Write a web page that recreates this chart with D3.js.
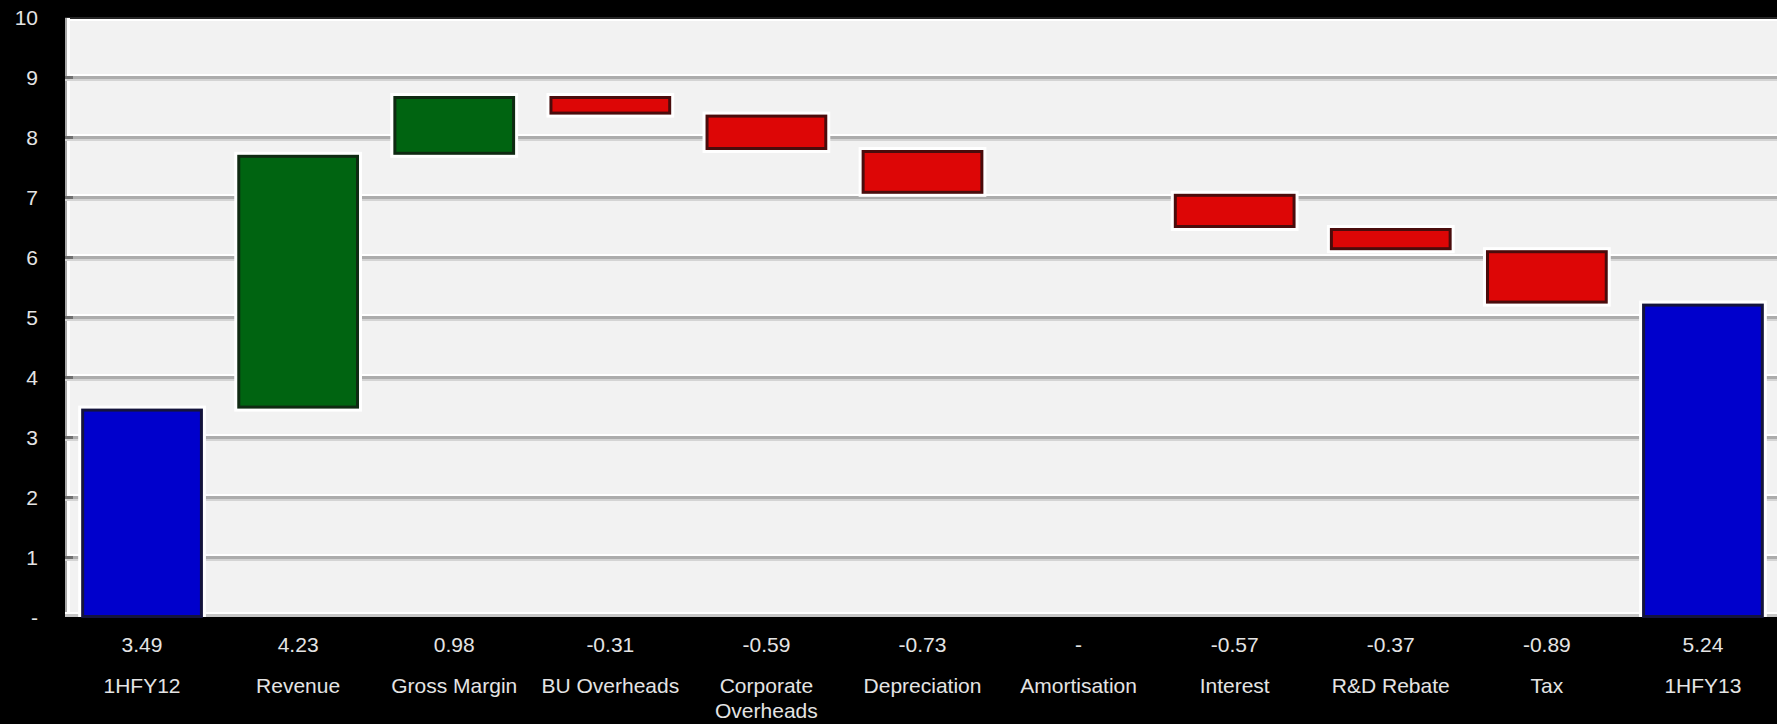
<!DOCTYPE html>
<html>
<head>
<meta charset="utf-8">
<script src="https://cdn.jsdelivr.net/npm/d3@7"></script>
<style>
  html, body { margin: 0; padding: 0; background: #000; }
  svg { display: block; }
  text { font-family: "Liberation Sans", Arial, sans-serif; fill: #e4e4e4; }
</style>
</head>
<body>
<svg id="chart" width="1777" height="724"></svg>
<script>
// ---- data ----
const categories = ["1HFY12", "Revenue", "Gross Margin", "BU Overheads", "Corporate Overheads",
  "Depreciation", "Amortisation", "Interest", "R&D Rebate", "Tax", "1HFY13"];
const values = [3.49, 4.23, 0.98, -0.31, -0.59, -0.73, 0, -0.57, -0.37, -0.89, 5.24];
const kinds = ["total", "delta", "delta", "delta", "delta", "delta", "delta", "delta", "delta", "delta", "total"];
const yTicks = [0, 1, 2, 3, 4, 5, 6, 7, 8, 9, 10];

// ---- layout ----
const W = 1777, H = 724;
const plot = { left: 65, right: 1777, top: 18, bottom: 617 };
const svg = d3.select("#chart");

const x = d3.scaleBand().domain(categories).range([64, 1781]).paddingInner(0.22).paddingOuter(0.11);
const y = d3.scaleLinear().domain([0, 10]).range([618, 18]);

const colors = { total: "#0000cc", up: "#006411", down: "#dd0606" };
const strokes = { total: "#14143c", up: "#0f2a12", down: "#4a0c0c" };

// running totals
let run = 0;
const bars = categories.map((c, i) => {
  const v = values[i];
  let lo, hi, type;
  if (kinds[i] === "total") { lo = 0; hi = v; run = v; type = "total"; }
  else { const s = run; run = s + v; lo = Math.min(s, run); hi = Math.max(s, run); type = v >= 0 ? "up" : "down"; }
  return { c, v, lo, hi, type };
});

// background
svg.append("rect").attr("x", 0).attr("y", 0).attr("width", W).attr("height", H).attr("fill", "#000");
svg.append("rect").attr("x", plot.left).attr("y", plot.top)
  .attr("width", plot.right - plot.left).attr("height", plot.bottom - plot.top).attr("fill", "#f2f2f2");

// borders
svg.append("rect").attr("x", plot.left).attr("y", plot.top - 1).attr("width", plot.right - plot.left).attr("height", 2).attr("fill", "#262626");
svg.append("rect").attr("x", plot.left).attr("y", plot.top + 1).attr("width", plot.right - plot.left).attr("height", 2).attr("fill", "#ffffff");
svg.append("rect").attr("x", plot.left).attr("y", plot.top).attr("width", 2).attr("height", plot.bottom - plot.top).attr("fill", "#a8a8a8");
svg.append("rect").attr("x", plot.left + 2).attr("y", plot.top).attr("width", 3).attr("height", plot.bottom - plot.top).attr("fill", "#ffffff");
svg.append("rect").attr("x", plot.left).attr("y", plot.bottom - 5).attr("width", plot.right - plot.left).attr("height", 2).attr("fill", "#ffffff");
svg.append("rect").attr("x", plot.left).attr("y", plot.bottom - 3).attr("width", plot.right - plot.left).attr("height", 3).attr("fill", "#c6c6c6");

// gridlines
const grid = svg.append("g");
yTicks.filter(t => t > 0 && t < 10).forEach(t => {
  const yy = Math.round(y(t));
  grid.append("rect").attr("x", plot.left + 5).attr("y", yy - 4).attr("width", plot.right - plot.left).attr("height", 2).attr("fill", "#ffffff");
  grid.append("rect").attr("x", plot.left).attr("y", yy - 2).attr("width", plot.right - plot.left).attr("height", 3).attr("fill", "#acacac");
  grid.append("rect").attr("x", plot.left).attr("y", yy + 1).attr("width", plot.right - plot.left).attr("height", 2).attr("fill", "#d4d4d4");
  grid.append("rect").attr("x", plot.left).attr("y", yy - 2).attr("width", 8).attr("height", 3).attr("fill", "#707070");
});

// bars
const bg = svg.append("g");
bars.forEach((b, i) => {
  if (b.hi - b.lo <= 0) return;
  const x0 = x(b.c), bw = x.bandwidth();
  const y0 = y(b.hi), h = y(b.lo) - y(b.hi);
  const bottomClip = b.lo === 0 ? 0 : 3;
  bg.append("rect").attr("x", x0 - 3).attr("y", y0 - 3).attr("width", bw + 6)
    .attr("height", Math.min(h + 3 + bottomClip, plot.bottom - (y0 - 3))).attr("fill", "#ffffff");
  bg.append("rect").attr("x", x0 + 1.5).attr("y", y0 + 1.5).attr("width", bw - 3)
    .attr("height", Math.min(h - 3, plot.bottom - y0 - 1.5))
    .attr("fill", colors[b.type]).attr("stroke", strokes[b.type]).attr("stroke-width", 3);
});

// y tick labels
const fmtY = t => t === 0 ? "-" : String(t);
svg.append("g").selectAll("text").data(yTicks).join("text")
  .attr("x", 38).attr("y", d => y(d) + 1).attr("text-anchor", "end").attr("dominant-baseline", "middle")
  .style("font-size", "21px").text(fmtY);

// value labels
const fmtV = v => v === 0 ? "-" : v.toFixed(2);
svg.append("g").selectAll("text").data(bars).join("text")
  .attr("x", d => x(d.c) + x.bandwidth() / 2).attr("y", 646).attr("text-anchor", "middle")
  .attr("dominant-baseline", "middle").style("font-size", "21px").text(d => fmtV(d.v));

// category labels (wrapped on words when wider than the band step)
const catG = svg.append("g");
categories.forEach(c => {
  const t = catG.append("text").attr("x", x(c) + x.bandwidth() / 2).attr("y", 687)
    .attr("text-anchor", "middle").attr("dominant-baseline", "middle").style("font-size", "21px").text(c);
  if (t.node().getComputedTextLength() > x.step() * 0.98) {
    const words = c.split(" ");
    t.text(null);
    words.forEach((w, k) => {
      t.append("tspan").attr("x", x(c) + x.bandwidth() / 2).attr("dy", k === 0 ? 0 : 25).text(w);
    });
  }
});
</script>
</body>
</html>
